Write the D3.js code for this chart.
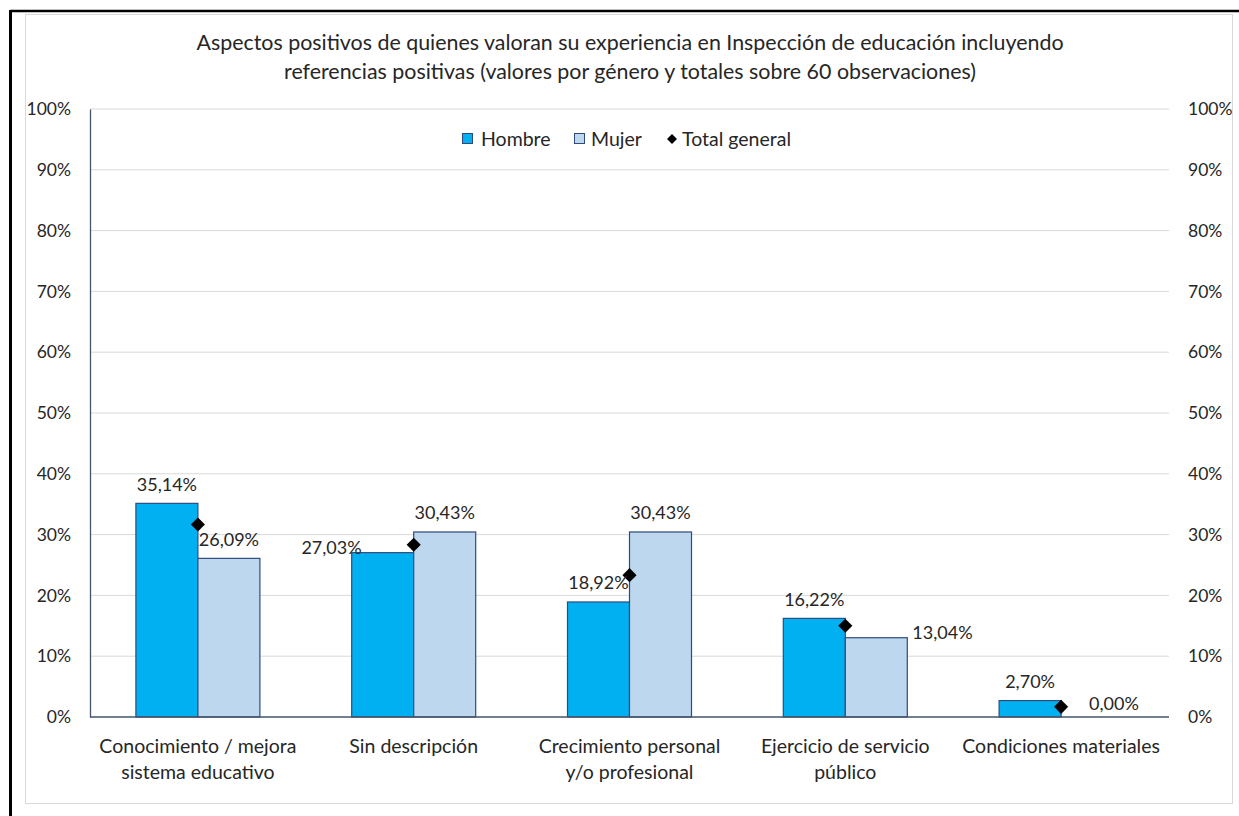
<!DOCTYPE html>
<html>
<head>
<meta charset="utf-8">
<script src="https://cdn.jsdelivr.net/npm/d3@7"></script>
<style>
  body { margin: 0; background: #fff; overflow: hidden; }
  text { font-family: Lato, "Open Sans", sans-serif; fill: #262626; }
</style>
</head>
<body>
<script>
var categories = [
    ['Conocimiento / mejora', 'sistema educativo'],
    ['Sin descripción'],
    ['Crecimiento personal', 'y/o profesional'],
    ['Ejercicio de servicio', 'público'],
    ['Condiciones materiales']
]
var hombre = [35.14, 27.03, 18.92, 16.22, 2.70]
var mujer = [26.09, 30.43, 30.43, 13.04, 0.00]
var totalGeneral = [31.67, 28.33, 23.33, 15.00, 1.67]
var yTicks = [0, 10, 20, 30, 40, 50, 60, 70, 80, 90, 100]

// where Excel put each data label
var hombreLabelPos = ['top', 'left', 'top', 'top', 'top']
var mujerLabelPos = ['top', 'top', 'top', 'right', 'aboveRight']

var width = 1239
var height = 816
var margin = { left: 90, right: 70, top: 109, bottom: 99 }

var svg = d3.select('body').append('svg').attr('width', width).attr('height', height)

// outer frame (only top + left edge visible)
svg.append('line').attr('x1', 10).attr('x2', width).attr('y1', 11).attr('y2', 11)
    .attr('stroke', '#000').attr('stroke-width', 2.5)
svg.append('line').attr('x1', 10.5).attr('x2', 10.5).attr('y1', 10).attr('y2', height)
    .attr('stroke', '#000').attr('stroke-width', 3)
svg.append('rect').attr('x', 25.5).attr('y', 14.5).attr('width', 1207).attr('height', 789)
    .attr('fill', '#fff').attr('stroke', '#d9d9d9').attr('stroke-width', 1)

var x = d3.scaleBand().domain(d3.range(categories.length))
    .range([margin.left, width - margin.right]).paddingInner(0).paddingOuter(0)
var barW = 62
var y = d3.scaleLinear().domain([0, 100]).range([height - margin.bottom, margin.top])

// grid
svg.append('g').selectAll('line').data(yTicks.slice(1)).enter().append('line')
    .attr('x1', margin.left).attr('x2', width - margin.right)
    .attr('y1', function (d) { return y(d) }).attr('y2', function (d) { return y(d) })
    .attr('stroke', '#d9d9d9').attr('stroke-width', 1)

var fmtTick = function (d) { return d + '%' }
var fmtLabel = function (d) { return d.toFixed(2).replace('.', ',') + '%' }

var left = svg.append('g').attr('transform', 'translate(' + margin.left + ',0)')
    .call(d3.axisLeft(y).tickValues(yTicks).tickFormat(fmtTick).tickSize(0).tickPadding(19))
left.select('.domain').attr('stroke', '#44546a').attr('stroke-width', 1.3)
left.selectAll('text').style('font-size', '17.5px').style('font-family', 'Lato').attr('fill', '#262626')

var right = svg.append('g').attr('transform', 'translate(' + (width - margin.right) + ',0)')
    .call(d3.axisRight(y).tickValues(yTicks).tickFormat(fmtTick).tickSize(0).tickPadding(19))
right.select('.domain').remove()
right.selectAll('text').style('font-size', '17.5px').style('font-family', 'Lato').attr('fill', '#262626')

// bars
var g = svg.append('g')
function drawBars(values, color, offset) {
    g.selectAll(null).data(values).enter().append('rect')
        .attr('x', function (d, i) { return x(i) + x.bandwidth() / 2 + offset })
        .attr('y', function (d) { return y(d) })
        .attr('width', barW)
        .attr('height', function (d) { return y(0) - y(d) })
        .attr('fill', color)
        .attr('stroke', '#2f4b7c').attr('stroke-width', 1.2)
}
drawBars(hombre, '#00b0f0', -barW)
drawBars(mujer, '#bdd7ee', 0)

// baseline
svg.append('line').attr('x1', margin.left).attr('x2', width - margin.right)
    .attr('y1', y(0)).attr('y2', y(0)).attr('stroke', '#44546a').attr('stroke-width', 1.3)

// total general markers
svg.append('g').selectAll('path').data(totalGeneral).enter().append('path')
    .attr('d', d3.symbol().type(d3.symbolSquare).size(100))
    .attr('transform', function (d, i) {
        return 'translate(' + (x(i) + x.bandwidth() / 2) + ',' + y(d) + ') rotate(45)'
    })
    .attr('fill', '#000')

// data labels
function drawLabels(values, pos, offset) {
    svg.append('g').selectAll('text').data(values).enter().append('text')
        .attr('x', function (d, i) {
            var cx = x(i) + x.bandwidth() / 2 + offset
            if (pos[i] === 'left') return cx - barW / 2 + 10
            if (pos[i] === 'right') return cx + barW / 2 + 5
            if (pos[i] === 'aboveRight') return cx - 3
            return cx
        })
        .attr('y', function (d, i) {
            if (pos[i] === 'top') return y(d) - 12.5
            if (pos[i] === 'aboveRight') return y(d) - 7
            return y(d) + 1
        })
        .attr('text-anchor', function (d, i) {
            if (pos[i] === 'left') return 'end'
            if (pos[i] === 'right' || pos[i] === 'aboveRight') return 'start'
            return 'middle'
        })
        .style('font-size', '18px')
        .text(fmtLabel)
}
drawLabels(hombre, hombreLabelPos, -barW / 2)
drawLabels(mujer, mujerLabelPos, barW / 2)

// category labels
var cat = svg.append('g').selectAll('text').data(categories).enter().append('text')
    .attr('x', function (d, i) { return x(i) + x.bandwidth() / 2 })
    .attr('y', 753)
    .attr('text-anchor', 'middle')
    .style('font-size', '19.5px')
cat.selectAll('tspan').data(function (d) { return d }).enter().append('tspan')
    .attr('x', function () { return d3.select(this.parentNode).attr('x') })
    .attr('dy', function (d, i) { return i ? 26 : 0 })
    .text(function (d) { return d })

// title
svg.append('text').attr('x', 630).attr('y', 50).attr('text-anchor', 'middle')
    .style('font-size', '21.4px')
    .text('Aspectos positivos de quienes valoran su experiencia en Inspección de educación incluyendo')
svg.append('text').attr('x', 630).attr('y', 79).attr('text-anchor', 'middle')
    .style('font-size', '21.4px')
    .text('referencias positivas (valores por género y totales sobre 60 observaciones)')

// legend
var legend = svg.append('g').attr('transform', 'translate(462,139)')
legend.append('rect').attr('x', 0.5).attr('y', -5.5).attr('width', 10).attr('height', 10)
    .attr('fill', '#00b0f0').attr('stroke', '#2f4b7c')
legend.append('text').attr('x', 19).attr('y', 7).style('font-size', '19.5px').text('Hombre')
legend.append('rect').attr('x', 112.5).attr('y', -5.5).attr('width', 10).attr('height', 10)
    .attr('fill', '#bdd7ee').attr('stroke', '#2f4b7c')
legend.append('text').attr('x', 129).attr('y', 7).style('font-size', '19.5px').text('Mujer')
legend.append('path').attr('d', d3.symbol().type(d3.symbolSquare).size(50))
    .attr('transform', 'translate(210,0) rotate(45)').attr('fill', '#000')
legend.append('text').attr('x', 220).attr('y', 7).style('font-size', '19.5px').text('Total general')
</script>
</body>
</html>
